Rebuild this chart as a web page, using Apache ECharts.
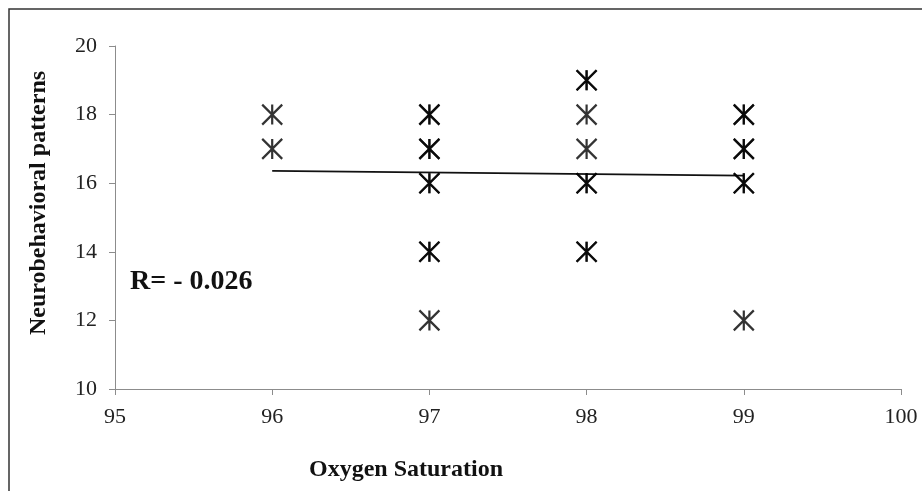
<!DOCTYPE html>
<html>
<head>
<meta charset="utf-8">
<script src="https://cdn.jsdelivr.net/npm/echarts@6/dist/echarts.min.js"></script>
<style>
  html, body { margin: 0; padding: 0; background: #fff; }
  #chart { width: 922px; height: 491px; }
</style>
</head>
<body>
<div id="chart"></div>
<script>
// Oxygen saturation (%) and neurobehavioral pattern score for each subject
var oxygenSat = [96, 96,
                 97, 97, 97, 97, 97, 97, 97, 97, 97,
                 98, 98, 98, 98, 98, 98, 98, 98,
                 99, 99, 99, 99, 99, 99, 99];
var neuroScore = [18, 17,
                  18, 18, 17, 17, 16, 16, 14, 14, 12,
                  19, 19, 18, 17, 16, 16, 14, 14,
                  18, 18, 17, 17, 16, 16, 12];

// Linear trend line end points
var trendX = [96, 99];
var trendY = [16.36, 16.22];

var xTicks = [95, 96, 97, 98, 99, 100];
var yTicks = [10, 12, 14, 16, 18, 20];

var serif = "'Liberation Serif', 'Times New Roman', serif";

var points = oxygenSat.map(function (x, i) { return [x, neuroScore[i]]; });
var trend = trendX.map(function (x, i) { return [x, trendY[i]]; });

var chart = echarts.init(document.getElementById('chart'), null, { renderer: 'canvas' });
chart.setOption({
  animation: false,
  backgroundColor: '#ffffff',
  grid: { left: 115, right: 21, top: 46, bottom: 102 },
  xAxis: {
    type: 'value',
    min: xTicks[0],
    max: xTicks[xTicks.length - 1],
    interval: 1,
    splitLine: { show: false },
    axisLine: { lineStyle: { color: '#8c8c8c', width: 1 } },
    axisTick: { length: 6, lineStyle: { color: '#8c8c8c' } },
    axisLabel: { fontFamily: serif, fontSize: 22, color: '#222', margin: 17 }
  },
  yAxis: {
    type: 'value',
    min: yTicks[0],
    max: yTicks[yTicks.length - 1],
    interval: 2,
    splitLine: { show: false },
    axisLine: { show: true, lineStyle: { color: '#8c8c8c', width: 1 } },
    axisTick: { show: true, length: 6, lineStyle: { color: '#8c8c8c' } },
    axisLabel: { fontFamily: serif, fontSize: 22, color: '#222', margin: 18 }
  },
  series: [
    {
      type: 'line',
      data: trend,
      showSymbol: false,
      symbol: 'none',
      lineStyle: { color: '#111', width: 1.6 },
      z: 3
    },
    {
      type: 'scatter',
      data: points,
      symbol: 'path://M0 0L20 20M20 0L0 20M10 0L10 20',
      symbolSize: [20, 20],
      itemStyle: { color: 'rgba(0,0,0,0)', borderColor: '#000', borderWidth: 2.2 },
      z: 4
    }
  ],
  graphic: [
    {
      type: 'rect',
      shape: { x: 9, y: 9, width: 940, height: 520 },
      style: { fill: 'none', stroke: '#333', lineWidth: 1.5 },
      silent: true
    },
    {
      type: 'text',
      x: 39, y: 203,
      rotation: Math.PI / 2,
      style: {
        text: 'Neurobehavioral patterns',
        font: 'bold 24px ' + serif,
        fill: '#111',
        align: 'center',
        verticalAlign: 'middle'
      }
    },
    {
      type: 'text',
      x: 406, y: 470,
      style: {
        text: 'Oxygen Saturation',
        font: 'bold 24px ' + serif,
        fill: '#111',
        align: 'center',
        verticalAlign: 'middle'
      }
    },
    {
      type: 'text',
      x: 130, y: 282,
      style: {
        text: 'R= - 0.026',
        font: 'bold 28px ' + serif,
        fill: '#111',
        align: 'left',
        verticalAlign: 'middle'
      }
    }
  ]
});
</script>
</body>
</html>
